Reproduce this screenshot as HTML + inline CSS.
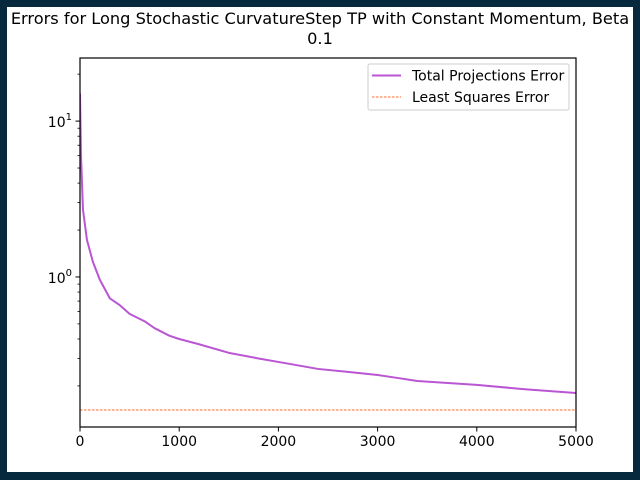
<!DOCTYPE html>
<html><head><meta charset="utf-8"><style>
body{margin:0;background:#06293d;width:640px;height:480px;overflow:hidden}
#fig{position:absolute;left:7px;top:7px;width:626px;height:465px;background:#fff;overflow:hidden}
svg{position:absolute;left:-7px;top:-7px}
text{font-family:"DejaVu Sans","Liberation Sans",sans-serif;fill:#000}
</style></head><body>
<div id="fig">
<svg id="chart" width="640" height="480">
<text x="320" y="24" font-size="16.2" text-anchor="middle">Errors for Long Stochastic CurvatureStep TP with Constant Momentum, Beta</text>
<text x="320" y="44" font-size="16.2" text-anchor="middle">0.1</text>
</svg></div>
<script>
const iters=[0,10,30,70,130,200,300,400,500,650,750,900,1000,1200,1500,1800,2000,2400,2700,3000,3200,3400,4000,4500,5000];
const totalErr=[15,6,2.7,1.73,1.25,0.96,0.73,0.66,0.58,0.52,0.47,0.42,0.40,0.37,0.326,0.30,0.285,0.257,0.246,0.235,0.225,0.215,0.203,0.19,0.18];
const lsqErr=0.14;
const xTicks=[0,1000,2000,3000,4000,5000];
const yMajor=[1,10];
const yMajorLabels=["0","1"];
const L=80,R=576,T=58,B=427,xMax=5000,logTop=Math.log10(25.4),logBot=Math.log10(0.109);
const sx=v=>L+(v/xMax)*(R-L);
const sy=v=>T+(logTop-Math.log10(v))/(logTop-logBot)*(B-T);
const svg=document.getElementById('chart'),NS='http://www.w3.org/2000/svg';
function mk(t,a,p){const e=document.createElementNS(NS,t);for(const k in a)e.setAttribute(k,a[k]);(p||svg).appendChild(e);return e;}
const clip=mk('clipPath',{id:'cp'});mk('rect',{x:L,y:T,width:R-L,height:B-T},clip);
let l=mk('line',{x1:L,x2:R,y1:sy(lsqErr),y2:sy(lsqErr),stroke:'#ff6a30','stroke-width':1,'stroke-dasharray':'2.5,1.5'});


let p=mk('polyline',{points:iters.map((x,i)=>sx(x)+','+sy(totalErr[i])).join(' '),fill:'none',stroke:'#ba55d3','stroke-width':2,'stroke-linejoin':'round','clip-path':'url(#cp)'});


let fr=mk('rect',{x:L,y:T,width:R-L,height:B-T,fill:'none',stroke:'#000','stroke-width':1.2});


xTicks.forEach(v=>{mk('line',{x1:sx(v),x2:sx(v),y1:B,y2:B+4.5,stroke:'#000','stroke-width':1});
 const t=mk('text',{x:sx(v),y:B+19,'font-size':14,'text-anchor':'middle'});t.textContent=v;
 
 });
for(let d=-1;d<=1;d++)for(let m=1;m<10;m++){const v=m*Math.pow(10,d);const y=sy(v);if(y<T||y>B)continue;
 mk('line',{x1:L,x2:L-(m==1?4.5:2.5),y1:y,y2:y,stroke:'#000','stroke-width':m==1?1:0.8});}
yMajor.forEach((v,i)=>{const y=sy(v);const t=mk('text',{x:L-8,y:y+6,'font-size':14,'text-anchor':'end'});
 t.innerHTML='10<tspan dy="-7" font-size="10">'+yMajorLabels[i]+'</tspan>';
 
 });
const g=mk('g',{});
mk('rect',{x:368,y:64,width:201,height:46,rx:2,fill:'#fff',stroke:'#ccc','stroke-width':1},g);
mk('line',{x1:372,x2:401,y1:75.5,y2:75.5,stroke:'#ba55d3','stroke-width':2},g);
mk('line',{x1:372,x2:401,y1:97,y2:97,stroke:'#ff6a30','stroke-width':1,'stroke-dasharray':'2.5,1.5'},g);
let t1=mk('text',{x:412,y:80.5,'font-size':14},g);t1.textContent='Total Projections Error';


let t2=mk('text',{x:412,y:102,'font-size':14},g);t2.textContent='Least Squares Error';


</script>
</body></html>
